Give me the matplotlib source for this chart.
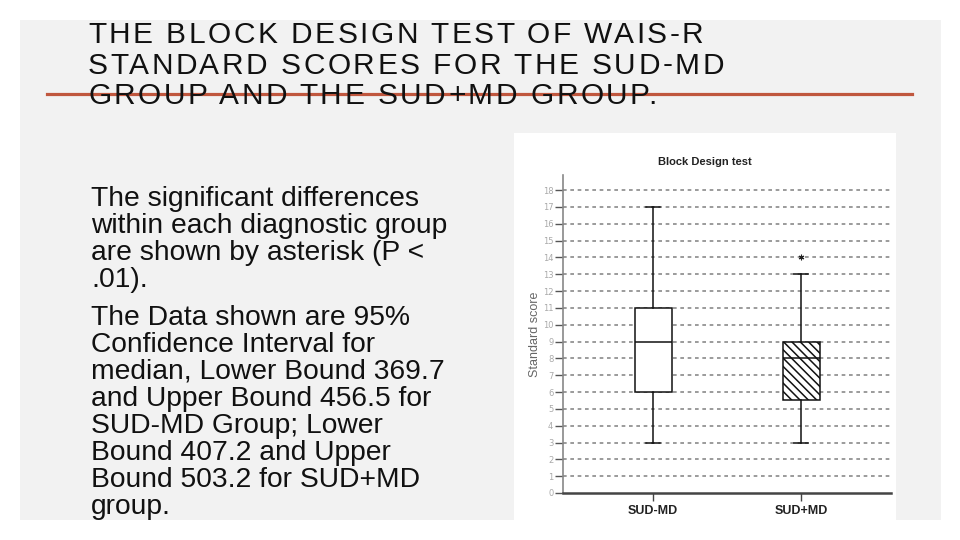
import numpy as np
import matplotlib
matplotlib.use("Agg")
from matplotlib import pyplot as plt
from matplotlib.patches import Rectangle
from matplotlib.font_manager import FontProperties

# data
groups = ["SUD-MD", "SUD+MD"]
whisker_low = [3, 3]
q1 = [6, 5.5]
medians = [9, 8]
q3 = [11, 9]
whisker_high = [17, 13]
outliers = [[], [14]]
y_ticks = list(range(0, 19))

title_lines = ["THE BLOCK DESIGN TEST OF WAIS-R",
               "STANDARD SCORES FOR THE SUD-MD",
               "GROUP AND THE SUD+MD GROUP."]
body_lines = ["The significant differences",
              "within each diagnostic group",
              "are shown by asterisk (P <",
              ".01).",
              None,
              "The Data shown are 95%",
              "Confidence Interval for",
              "median, Lower Bound 369.7",
              "and Upper Bound 456.5 for",
              "SUD-MD Group; Lower",
              "Bound 407.2 and Upper",
              "Bound 503.2 for SUD+MD",
              "group."]

W, H = 960, 540
plt.rcParams["hatch.linewidth"] = 1.1
plt.rcParams["hatch.color"] = "#111111"
fig = plt.figure(figsize=(W / 100, H / 100), dpi=100)
fig.patch.set_facecolor("white")


def px(x, y):
    # pixel coords (top-left origin) -> figure fraction
    return x / W, 1 - y / H


# slide panel
fig.patches.append(Rectangle(px(20, 520), 921 / W, 500 / H, transform=fig.transFigure,
                             facecolor="#f2f2f2", edgecolor="none", zorder=-2))
# chart picture background
fig.patches.append(Rectangle(px(514, 520), 382 / W, 387 / H, transform=fig.transFigure,
                             facecolor="white", edgecolor="none", zorder=-1))

# title with letter spacing
fp_title = FontProperties(family="Liberation Sans", size=21.5)
renderer = fig.canvas.get_renderer()


def text_width(s, fp):
    w, h, d = renderer.get_text_width_height_descent(s, fp, ismath=False)
    return w


spacing = 2.5
for k, line in enumerate(title_lines):
    base_y = 43 + k * 30.5
    for i, ch in enumerate(line):
        if ch == " ":
            continue
        left = text_width(line[:i + 1], fp_title) - text_width(ch, fp_title) + i * spacing
        fig.text(*px(88 + left, base_y), ch, fontproperties=fp_title, color="#111111",
                 ha="left", va="baseline")

fig.add_artist(plt.Line2D([47 / W, 912 / W], [1 - 94 / H, 1 - 94 / H], transform=fig.transFigure,
                          color="#c0573e", lw=2.3, zorder=3))

# body text
y = 206
for line in body_lines:
    if line is None:
        y += 11
        continue
    fig.text(*px(91, y), line, family="Liberation Sans", size=20.3, color="#111111",
             ha="left", va="baseline")
    y += 27

# box plot
ax = fig.add_axes([563 / W, 47 / H, 328 / W, 318 / H])
ax.set_facecolor("none")
stats = []
for i, g in enumerate(groups):
    stats.append(dict(label=g, whislo=whisker_low[i], q1=q1[i], med=medians[i],
                      q3=q3[i], whishi=whisker_high[i], fliers=outliers[i]))

bp = ax.bxp(stats, positions=[1, 2], widths=0.25, capwidths=0.1, patch_artist=True,
            boxprops=dict(linewidth=1.1, edgecolor="#111111"),
            medianprops=dict(color="#111111", linewidth=1.1),
            whiskerprops=dict(color="#111111", linewidth=1.1),
            capprops=dict(color="#111111", linewidth=1.1),
            flierprops=dict(marker=(6, 2, 0), markersize=4, markeredgecolor="#222222",
                            markeredgewidth=0.8))
bp["boxes"][0].set_facecolor("white")
bp["boxes"][1].set_facecolor("white")
bp["boxes"][1].set_hatch("\\\\\\\\")

ax.set_xlim(1 - 90 / 148, 2 + 90 / 148)
ax.set_ylim(0, 318 / 16.83)
ax.set_yticks(y_ticks)
ax.set_yticklabels([str(t) for t in y_ticks])
for t in y_ticks[1:]:
    ax.axhline(t, color="#8a8a8a", lw=1.2, ls=(0, (2.2, 2.2)), zorder=0)

for side in ["top", "right"]:
    ax.spines[side].set_visible(False)
ax.spines["left"].set_color("#888888")
ax.spines["left"].set_linewidth(1.2)
ax.spines["bottom"].set_color("#444444")
ax.spines["bottom"].set_linewidth(1.8)
ax.tick_params(axis="y", length=6, width=1, color="#555555", labelsize=6, labelcolor="#aaaaaa", pad=1)
ax.tick_params(axis="x", length=6, width=1, color="#444444", labelsize=9, pad=3)
for lab in ax.get_xticklabels():
    lab.set_fontweight("bold")
    lab.set_family("Liberation Sans")
    lab.set_color("#222222")

ax.set_ylabel("Standard score", family="Liberation Sans", fontsize=9, color="#666666", labelpad=1.5)
fig.text(*px(705, 162), "Block Design test", family="Liberation Sans", fontsize=8, color="#222222",
         fontweight="bold", ha="center", va="center")

fig.savefig("out.png", dpi=100)
